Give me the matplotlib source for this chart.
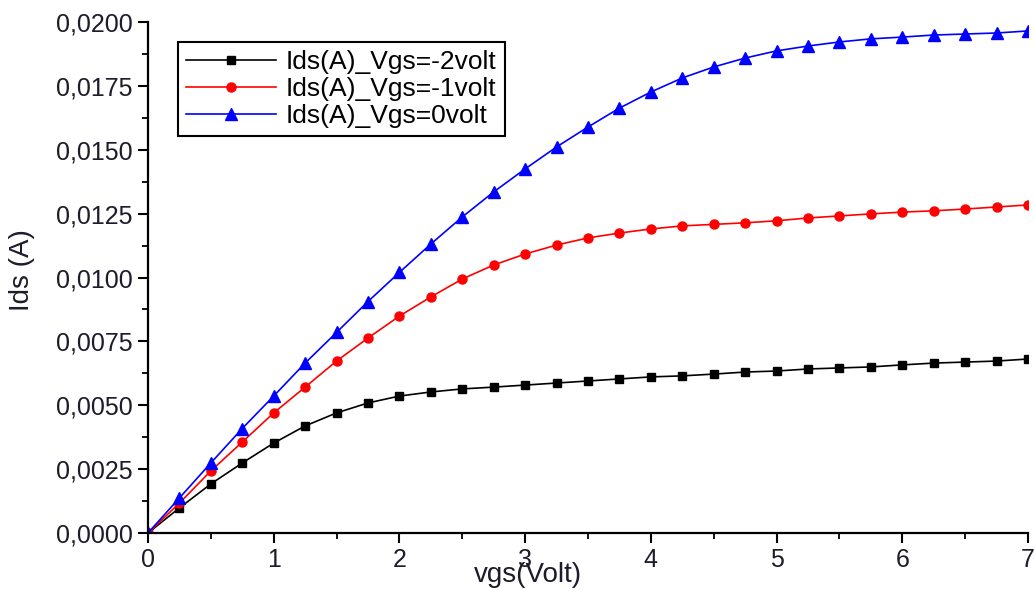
import matplotlib
matplotlib.use("Agg")
import matplotlib.pyplot as plt
from matplotlib.ticker import MultipleLocator, FuncFormatter

plt.rcParams['font.family'] = ['Liberation Sans', 'DejaVu Sans']

vds = [0.0, 0.25, 0.5, 0.75, 1.0, 1.25, 1.5, 1.75, 2.0, 2.25, 2.5, 2.75, 3.0,
       3.25, 3.5, 3.75, 4.0, 4.25, 4.5, 4.75, 5.0, 5.25, 5.5, 5.75, 6.0,
       6.25, 6.5, 6.75, 7.0]

ids_vgs_m2 = [0.0, 0.00098, 0.00192, 0.00274, 0.00352, 0.00419, 0.00470,
              0.00509, 0.00536, 0.00552, 0.00564, 0.00571, 0.00579, 0.00587,
              0.00595, 0.00603, 0.00611, 0.00615, 0.00622, 0.00630, 0.00634,
              0.00642, 0.00646, 0.00650, 0.00658, 0.00665, 0.00669, 0.00673,
              0.00681]

ids_vgs_m1 = [0.0, 0.00117, 0.00243, 0.00356, 0.00470, 0.00571, 0.00673,
              0.00763, 0.00849, 0.00924, 0.00994, 0.01049, 0.01092, 0.01127,
              0.01155, 0.01174, 0.01190, 0.01202, 0.01208, 0.01214, 0.01222,
              0.01233, 0.01241, 0.01249, 0.01256, 0.01261, 0.01268, 0.01276,
              0.01284]

ids_vgs_0 = [0.0, 0.00137, 0.00274, 0.00409, 0.00536, 0.00665, 0.00785,
             0.00906, 0.01020, 0.01131, 0.01237, 0.01335, 0.01425, 0.01511,
             0.01589, 0.01663, 0.01726, 0.01781, 0.01824, 0.01859, 0.01887,
             0.01906, 0.01922, 0.01934, 0.01941, 0.01949, 0.01953, 0.01957,
             0.01965]

labels = ['Ids(A)_Vgs=-2volt', 'Ids(A)_Vgs=-1volt', 'Ids(A)_Vgs=0volt']

fig = plt.figure(figsize=(10.34, 5.9), dpi=100)
ax = fig.add_axes([0.1431, 0.0966, 0.8511, 0.8661])

ax.plot(vds, ids_vgs_m2, color='black', lw=1.2, marker='s', ms=6,
        label=labels[0])
ax.plot(vds, ids_vgs_m1, color='#ff0000', lw=1.2, marker='o', ms=6.5,
        label=labels[1])
ax.plot(vds, ids_vgs_0, color='#0000ff', lw=1.2, marker='^', ms=8,
        label=labels[2])

ax.set_xlim(0, 7)
ax.set_ylim(0, 0.02)

for side in ('top', 'right'):
    ax.spines[side].set_visible(False)
for side in ('left', 'bottom'):
    ax.spines[side].set_linewidth(1.6)

ax.xaxis.set_major_locator(MultipleLocator(1))
ax.xaxis.set_minor_locator(MultipleLocator(0.5))
ax.yaxis.set_major_locator(MultipleLocator(0.0025))
ax.yaxis.set_minor_locator(MultipleLocator(0.00125))
ax.yaxis.set_major_formatter(
    FuncFormatter(lambda v, p: f"{v:.4f}".replace('.', ',')))

tick_color = '#1c1c2a'
ax.tick_params(which='major', direction='out', length=7, width=1.5,
               labelsize=18, pad=4, labelcolor=tick_color)
ax.tick_params(which='minor', direction='out', length=4, width=1.3)

ax.set_xlabel('vgs(Volt)', fontsize=20, color=tick_color)
ax.xaxis.set_label_coords(0.432, -0.057)
ax.set_ylabel('Ids (A)', fontsize=20, color=tick_color)
ax.yaxis.set_label_coords(-0.128, 0.515)

leg = ax.legend(loc='upper left', bbox_to_anchor=(0.034, 0.961),
                fontsize=19, frameon=True, fancybox=False, framealpha=1,
                edgecolor='black', handlelength=3.4, borderpad=0.3,
                labelspacing=0.12, handletextpad=0.4, borderaxespad=0)
leg.get_frame().set_linewidth(1.5)

fig.savefig('out.png', dpi=100, facecolor='white')
